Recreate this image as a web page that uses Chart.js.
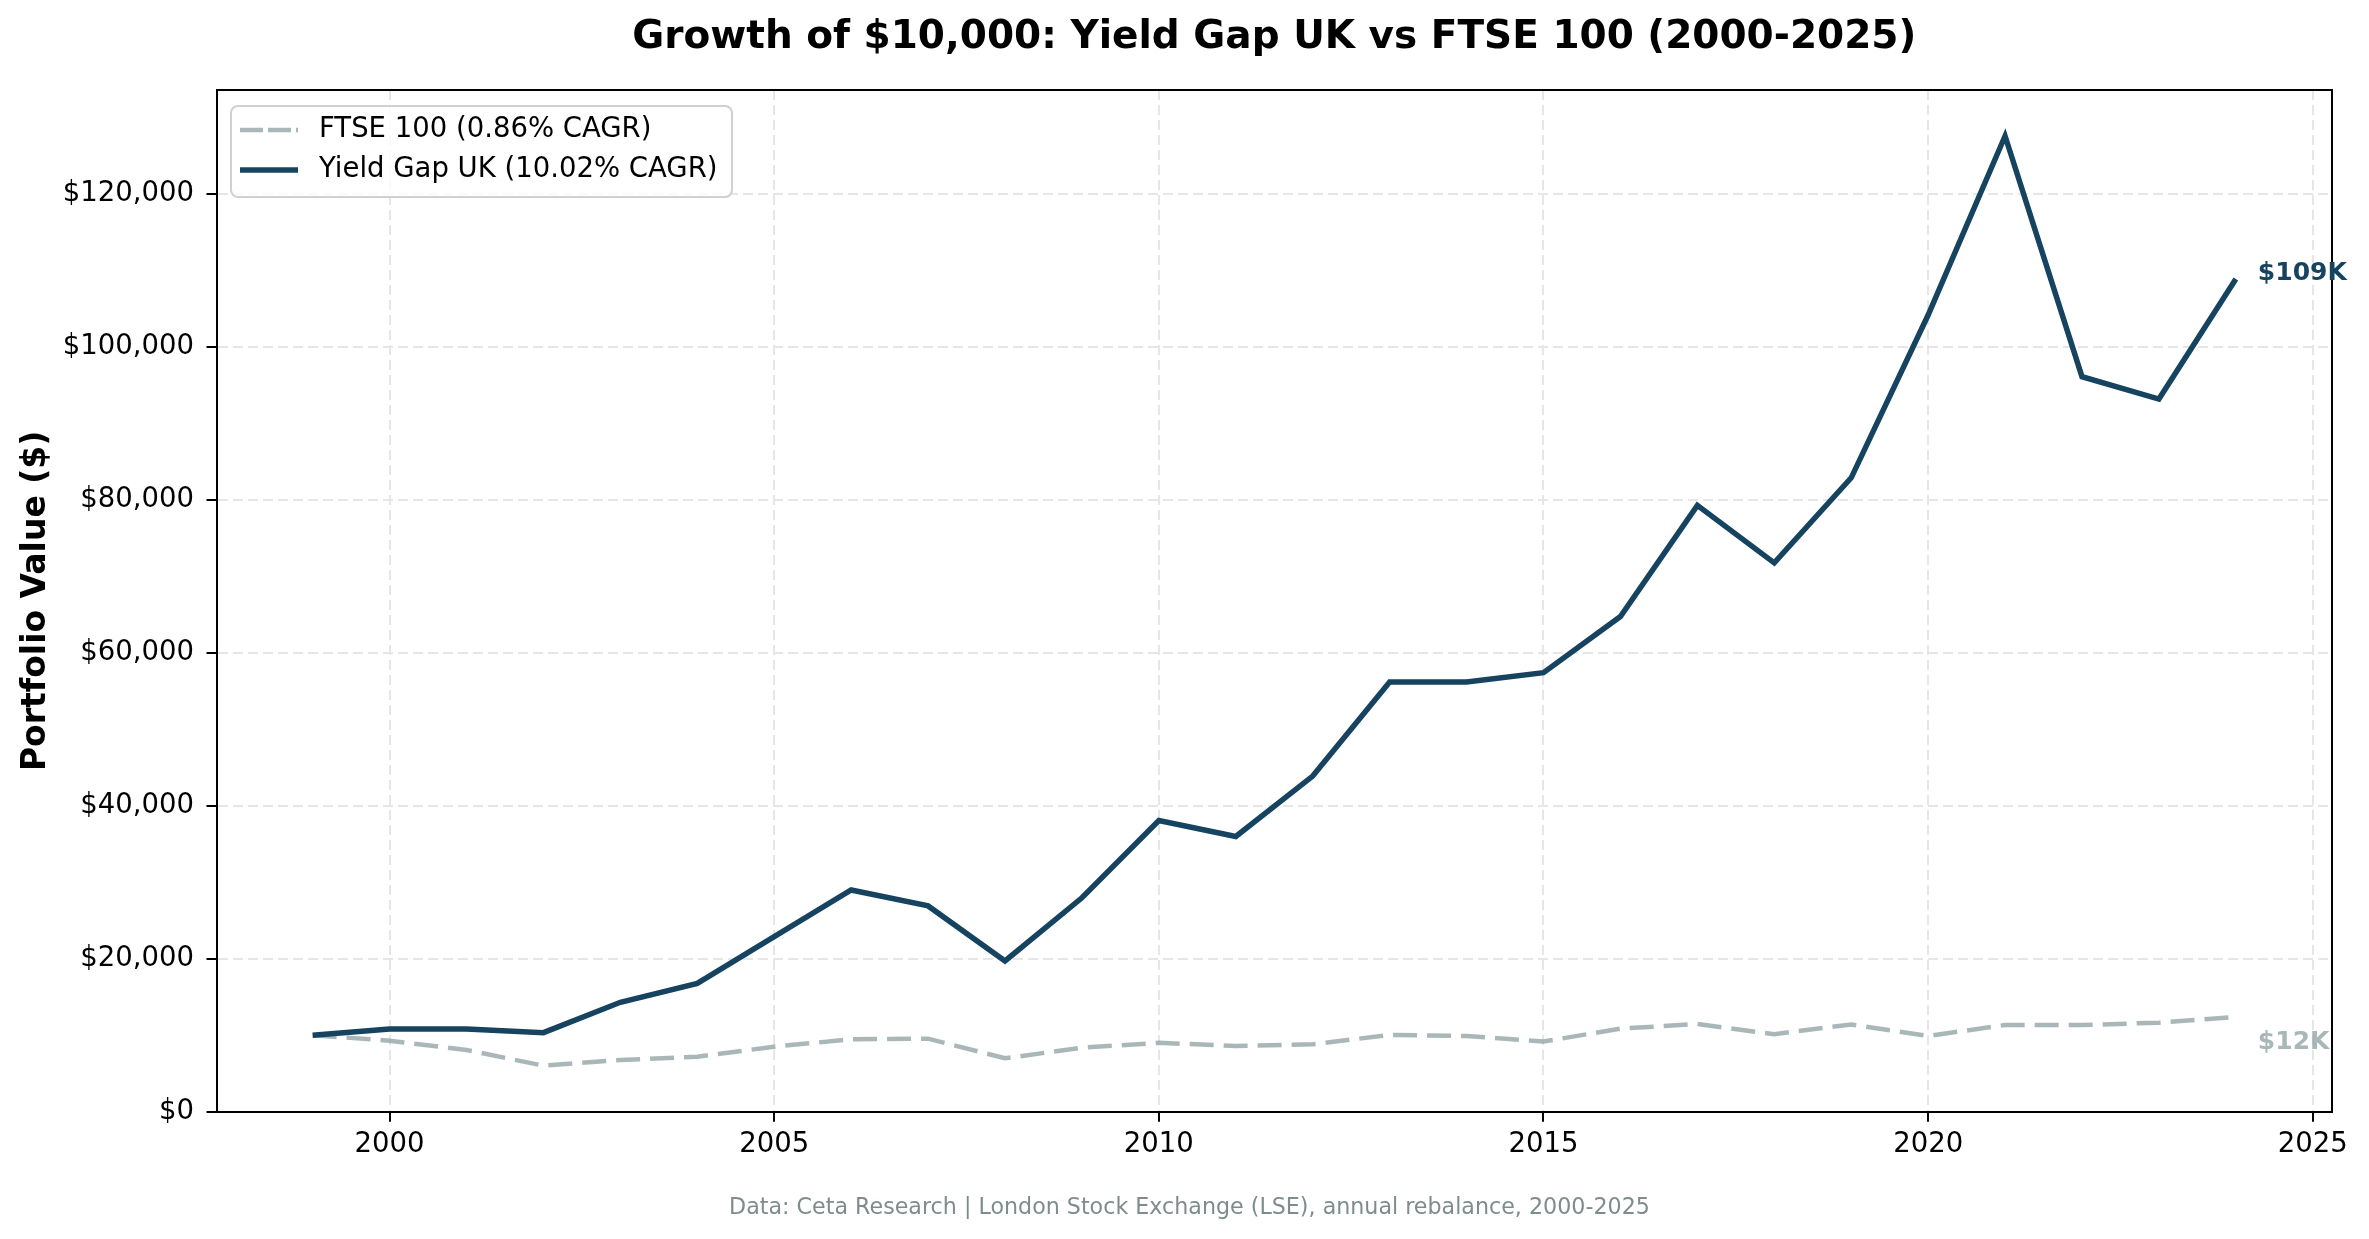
<!DOCTYPE html>
<html>
<head>
<meta charset="utf-8">
<title>Growth of $10,000: Yield Gap UK vs FTSE 100 (2000-2025)</title>
<script src="https://cdn.jsdelivr.net/npm/chart.js@4.4.1/dist/chart.umd.min.js"></script>
<style>
  html, body { margin: 0; padding: 0; background: #ffffff; }
  #wrap { width: 2369px; height: 1239px; }
</style>
</head>
<body>
<div id="wrap"><canvas id="growthChart" width="2369" height="1239"></canvas></div>
<script>
// Data
const years          = [1999, 2000, 2001, 2002, 2003, 2004, 2005, 2006, 2007, 2008, 2009, 2010, 2011,
                        2012, 2013, 2014, 2015, 2016, 2017, 2018, 2019, 2020, 2021, 2022, 2023, 2024];
const ftseValues     = [10000, 9280, 8070, 6020, 6760, 7190, 8500, 9460, 9550, 6980, 8370, 9000, 8600,
                        8810, 10040, 9900, 9170, 10860, 11460, 10130, 11410, 9900, 11330, 11330, 11640, 12400];
const yieldGapValues = [10000, 10810, 10810, 10330, 14300, 16780, 22890, 28980, 26900, 19710, 27960, 38070, 35980,
                        43870, 56180, 56180, 57390, 64730, 79260, 71740, 82860, 104140, 127540, 96080, 93160, 108850];
const seriesNames    = ['FTSE 100 (0.86% CAGR)', 'Yield Gap UK (10.02% CAGR)'];
const xTickYears     = [2000, 2005, 2010, 2015, 2020, 2025];
const yTickValues    = [0, 20000, 40000, 60000, 80000, 100000, 120000];
const footnoteText   = 'Data: Ceta Research | London Stock Exchange (LSE), annual rebalance, 2000-2025';

const FONT       = '"DejaVu Sans", "Liberation Sans", sans-serif';
const NAVY       = '#154360';
const GREY       = 'rgba(149,165,166,0.8)';
const GRID       = '#e6e6e6';

const toPoints = vals => vals.map((v, i) => ({ x: years[i], y: v }));

//  Full box round the plot (matplotlib style spines)
const frameBox = {
  id: 'frameBox',
  afterDatasetsDraw(chart) {
    const { ctx, chartArea: a } = chart;
    ctx.save();
    ctx.strokeStyle = '#000';
    ctx.lineWidth = 2;
    ctx.beginPath();
    ctx.moveTo(a.left, a.top);
    ctx.lineTo(a.right, a.top);
    ctx.lineTo(a.right, a.bottom);
    ctx.stroke();
    ctx.restore();
  }
};

//  End-of-line value labels ($109K / $12K)
const endLabels = {
  id: 'endLabels',
  afterDatasetsDraw(chart) {
    const { ctx } = chart;
    chart.data.datasets.forEach((ds, i) => {
      const pts  = chart.getDatasetMeta(i).data;
      const last = pts[pts.length - 1];
      const v    = ds.data[ds.data.length - 1].y;
      ctx.save();
      ctx.font = 'bold 25px ' + FONT;
      ctx.fillStyle = ds.endLabelColor;
      ctx.textAlign = 'left';
      ctx.textBaseline = 'middle';
      ctx.fillText('$' + Math.round(v / 1000) + 'K', last.x + 22, last.y + ds.endLabelShift);
      ctx.restore();
    });
  }
};

//  Legend box in the upper-left corner of the plot
const insideLegend = {
  id: 'insideLegend',
  afterDraw(chart) {
    const { ctx, chartArea: a } = chart;
    const x = a.left + 14.5, y = a.top + 16, w = 501, h = 91;
    ctx.save();
    ctx.fillStyle = 'rgba(255,255,255,0.8)';
    ctx.strokeStyle = '#d0d0d0';
    ctx.lineWidth = 2;
    ctx.beginPath();
    ctx.roundRect(x, y, w, h, 7);
    ctx.fill();
    ctx.stroke();
    chart.data.datasets.forEach((ds, i) => {
      const cy = y + 24 + i * 40;
      ctx.strokeStyle = ds.borderColor;
      ctx.lineWidth   = ds.borderWidth;
      ctx.setLineDash(ds.legendDash || []);
      ctx.beginPath();
      ctx.moveTo(x + 9, cy);
      ctx.lineTo(x + 67, cy);
      ctx.stroke();
      ctx.setLineDash([]);
      ctx.fillStyle = '#000';
      ctx.font = '27.5px ' + FONT;
      ctx.textAlign = 'left';
      ctx.textBaseline = 'middle';
      ctx.fillText(ds.label, x + 88, cy);
    });
    ctx.restore();
  }
};

//  Source note under the axes, centred on the whole figure
const footnote = {
  id: 'footnote',
  afterDraw(chart) {
    const { ctx } = chart;
    ctx.save();
    ctx.font = '22.2px ' + FONT;
    ctx.fillStyle = '#7f8c8d';
    ctx.textAlign = 'center';
    ctx.textBaseline = 'middle';
    ctx.fillText(footnoteText, chart.width / 2 + 5, 1208);
    ctx.restore();
  }
};

const tickFont = { family: FONT, size: 27.5 };

new Chart(document.getElementById('growthChart'), {
  type: 'line',
  data: {
    datasets: [
      {
        label:         seriesNames[0],
        data:          toPoints(ftseValues),
        borderColor:   GREY,
        borderWidth:   4.5,
        borderDash:    [24, 10],
        legendDash:    [23, 5],
        pointRadius:   0,
        tension:       0,
        order:         1,
        endLabelColor: GREY,
        endLabelShift: 26,
      },
      {
        label:         seriesNames[1],
        data:          toPoints(yieldGapValues),
        borderColor:   NAVY,
        borderWidth:   5.5,
        pointRadius:   0,
        tension:       0,
        order:         0,
        endLabelColor: NAVY,
        endLabelShift: -5,
      }
    ]
  },
  options: {
    responsive: false,
    devicePixelRatio: 1,
    animation: false,
    events: [],
    layout: { padding: { left: 0, right: 37, top: 0, bottom: 54.3 } },
    scales: {
      x: {
        type: 'linear',
        min: 1997.75,
        max: 2025.25,
        afterBuildTicks: s => { s.ticks = xTickYears.map(v => ({ value: v })); },
        afterFit: s => { s.height = 73; },
        ticks: {
          color: '#000',
          font: tickFont,
          padding: 7,
          maxRotation: 0,
          autoSkip: false,
          callback: v => String(v),
        },
        grid:   { color: GRID, lineWidth: 2, tickColor: '#000', tickWidth: 2, tickLength: 10 },
        border: { color: '#000', width: 2, dash: [10, 5] },
      },
      y: {
        min: 0,
        max: 133555,
        afterBuildTicks: s => { s.ticks = yTickValues.map(v => ({ value: v })); },
        afterFit: s => { s.width = 216.5; },
        ticks: {
          color: '#000',
          font: tickFont,
          padding: 12.5,
          callback: v => '$' + Number(v).toLocaleString('en-US'),
        },
        title: {
          display: true,
          text: 'Portfolio Value ($)',
          color: '#000',
          font: { family: FONT, size: 33, weight: 'bold' },
          padding: { top: 17, bottom: 0 },
        },
        grid:   { color: GRID, lineWidth: 2, tickColor: '#000', tickWidth: 2, tickLength: 10 },
        border: { color: '#000', width: 2, dash: [10, 5] },
      }
    },
    plugins: {
      legend:  { display: false },
      tooltip: { enabled: false },
      title: {
        display: true,
        text: 'Growth of $10,000: Yield Gap UK vs FTSE 100 (2000-2025)',
        fullSize: false,
        color: '#000',
        font: { family: FONT, size: 39, weight: 'bold' },
        padding: { top: 14, bottom: 29.2 },
      }
    }
  },
  plugins: [frameBox, endLabels, insideLegend, footnote]
});
</script>
</body>
</html>
